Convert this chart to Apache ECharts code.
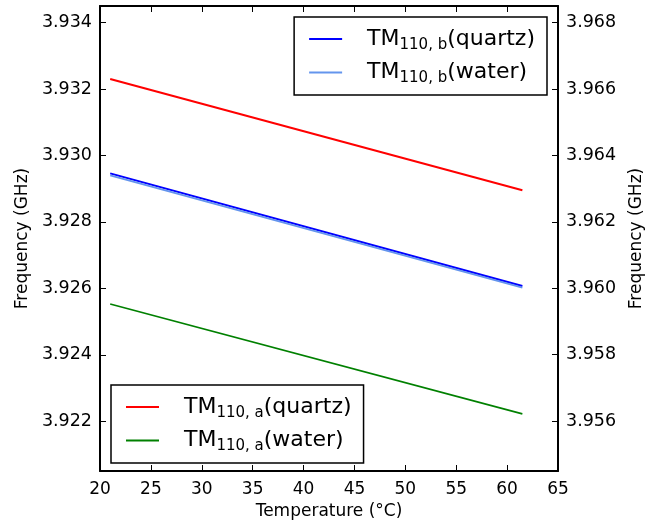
<!DOCTYPE html>
<html>
<head>
<meta charset="utf-8">
<script src="https://cdn.jsdelivr.net/npm/echarts@6/dist/echarts.min.js"></script>
<style>
  html, body { margin: 0; padding: 0; background: #fff; }
  #chart { width: 668px; height: 525px; }
</style>
</head>
<body>
<div id="chart"></div>
<script>
// 数据
var temps = [21, 61.5];
var quartzA = [3.9323, 3.92895];
var waterA = [3.92553, 3.92222];
var quartzB = [3.96346, 3.96007];   // 右轴
var waterB = [3.96340, 3.96002];    // 右轴
var leftTicks = [3.922, 3.924, 3.926, 3.928, 3.930, 3.932, 3.934];
var rightTicks = [3.956, 3.958, 3.960, 3.962, 3.964, 3.966, 3.968];

function pairs(xs, ys) {
  return xs.map(function (x, i) { return [x, ys[i]]; });
}

var font = "DejaVu Sans";
var myChart = echarts.init(document.getElementById("chart"));

var legendRich = {
  a: { fontFamily: font, fontSize: 22, color: "#000" },
  s: { fontFamily: font, fontSize: 15, color: "#000", padding: [12, 0, 0, 0] }
};
function legendFmt(name) {
  var m = name.match(/^TM(\d+),(\w)(.*)$/);
  return "{a|TM}{s|" + m[1] + ", " + m[2] + "}{a|" + m[3] + "}";
}

option = {
  animation: false,
  backgroundColor: "#fff",
  grid: { left: 100, right: 110, top: 6, bottom: 52 },
  legend: [
    {
      data: ["TM110,b(quartz)", "TM110,b(water)"],
      orient: "vertical",
      right: 121, top: 17,
      borderColor: "#000", borderWidth: 1.5,
      padding: [11, 12, 9, 15],
      itemGap: 9,
      icon: "rect", itemWidth: 33, itemHeight: 2,
      formatter: legendFmt,
      textStyle: { rich: legendRich, padding: [0, 0, 0, 20] }
    },
    {
      data: ["TM110,a(quartz)", "TM110,a(water)"],
      orient: "vertical",
      left: 111, bottom: 62,
      borderColor: "#000", borderWidth: 1.5,
      padding: [11, 12, 9, 15],
      itemGap: 9,
      icon: "rect", itemWidth: 33, itemHeight: 2,
      formatter: legendFmt,
      textStyle: { rich: legendRich, padding: [0, 0, 0, 20] }
    }
  ],
  xAxis: [
    {
      type: "value", min: 20, max: 65, interval: 5,
      name: "Temperature (°C)", nameLocation: "middle", nameGap: 32,
      nameTextStyle: { fontFamily: font, fontSize: 17, color: "#000" },
      axisLine: { lineStyle: { color: "#000", width: 2 } },
      axisTick: { inside: true, length: 6, lineStyle: { color: "#000" } },
      axisLabel: { fontFamily: font, fontSize: 17, color: "#000", margin: 10 },
      splitLine: { show: false }
    },
    {
      type: "value", position: "top", min: 20, max: 65, interval: 5,
      axisLine: { lineStyle: { color: "#000", width: 2 } },
      axisTick: { inside: true, length: 6, lineStyle: { color: "#000" } },
      axisLabel: { show: false },
      splitLine: { show: false }
    }
  ],
  yAxis: [
    {
      type: "value", min: 3.9205, max: 3.9345,
      name: "Frequency (GHz)", nameLocation: "middle", nameGap: 69,
      nameTextStyle: { fontFamily: font, fontSize: 17, color: "#000" },
      axisLine: { show: true, lineStyle: { color: "#000", width: 2 } },
      axisTick: { inside: true, length: 6, customValues: leftTicks, lineStyle: { color: "#000" } },
      axisLabel: {
        fontFamily: font, fontSize: 17.5, color: "#000", margin: 8,
        customValues: leftTicks,
        formatter: function (v) { return v.toFixed(3); }
      },
      splitLine: { show: false }
    },
    {
      type: "value", position: "right", min: 3.9545, max: 3.9685,
      name: "Frequency (GHz)", nameLocation: "middle", nameGap: 70, nameRotate: 90,
      nameTextStyle: { fontFamily: font, fontSize: 17, color: "#000" },
      axisLine: { show: true, lineStyle: { color: "#000", width: 2 } },
      axisTick: { inside: true, length: 6, customValues: rightTicks, lineStyle: { color: "#000" } },
      axisLabel: {
        fontFamily: font, fontSize: 17.5, color: "#000", margin: 8,
        customValues: rightTicks,
        formatter: function (v) { return v.toFixed(3); }
      },
      splitLine: { show: false }
    }
  ],
  series: [
    {
      name: "TM110,b(quartz)", type: "line", yAxisIndex: 1,
      data: pairs(temps, quartzB), showSymbol: false, symbol: "none",
      itemStyle: { color: "#0000ff" }, lineStyle: { color: "#0000ff", width: 2 }
    },
    {
      name: "TM110,b(water)", type: "line", yAxisIndex: 1,
      data: pairs(temps, waterB), showSymbol: false, symbol: "none",
      itemStyle: { color: "#6495ed" }, lineStyle: { color: "#6495ed", width: 2 }
    },
    {
      name: "TM110,a(quartz)", type: "line", yAxisIndex: 0,
      data: pairs(temps, quartzA), showSymbol: false, symbol: "none",
      itemStyle: { color: "#ff0000" }, lineStyle: { color: "#ff0000", width: 2 }
    },
    {
      name: "TM110,a(water)", type: "line", yAxisIndex: 0,
      data: pairs(temps, waterA), showSymbol: false, symbol: "none",
      itemStyle: { color: "#008000" }, lineStyle: { color: "#008000", width: 1.6 }
    }
  ]
};

myChart.setOption(option);
</script>
</body>
</html>
